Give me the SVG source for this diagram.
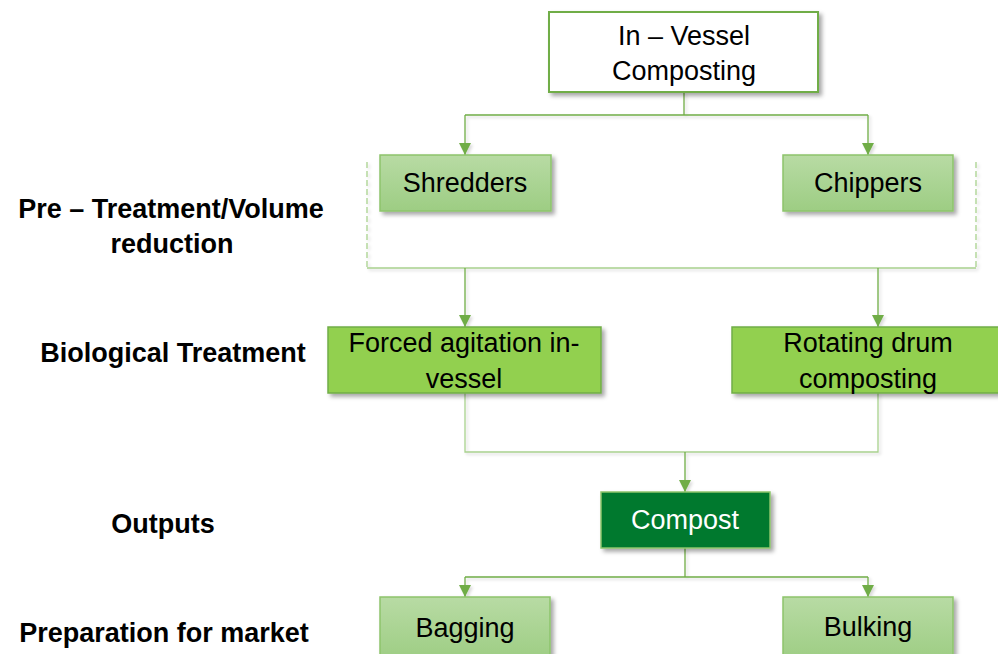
<svg xmlns="http://www.w3.org/2000/svg" width="998" height="654" viewBox="0 0 998 654">
<defs>
<linearGradient id="lg" x1="0" y1="0" x2="0" y2="1">
<stop offset="0" stop-color="#B8DBA4"/>
<stop offset="1" stop-color="#9DCD83"/>
</linearGradient>
<filter id="sh" x="-10%" y="-10%" width="125%" height="135%">
<feDropShadow dx="3" dy="3" stdDeviation="2" flood-color="#000" flood-opacity="0.35"/>
</filter>
<filter id="lsh" x="-10%" y="-10%" width="125%" height="135%">
<feDropShadow dx="2" dy="2" stdDeviation="1.5" flood-color="#000" flood-opacity="0.15"/>
</filter>
<marker id="ah" markerWidth="12" markerHeight="12" refX="10" refY="5" orient="auto" markerUnits="userSpaceOnUse" viewBox="0 0 10 10">
<path d="M0,0 L10,5 L0,10 Z" fill="#70AD47"/>
</marker>
<style>
.node{font-family:"Liberation Sans",Arial,sans-serif;font-size:27px;fill:#000;text-anchor:middle}
.lbl{font-family:"Liberation Sans",Arial,sans-serif;font-size:27px;font-weight:bold;fill:#000;text-anchor:middle}
.light{fill:url(#lg);stroke:#8DC46B;stroke-width:1.5}
.mid{fill:#92D050;stroke:#70AD47;stroke-width:1.5}
.dark{fill:#00792F;stroke:#8DC46B;stroke-width:1.5}
.con{fill:none;stroke:#70AD47;stroke-width:1.3}
.conl{fill:none;stroke:#A9D18E;stroke-width:1.3}
.dash{fill:none;stroke:#A9D18E;stroke-width:1.3;stroke-dasharray:6,3}
</style>
</defs>
<rect width="998" height="654" fill="#FFFFFF"/>

<g id="labels">
<text class="lbl" x="171" y="218">Pre – Treatment/Volume</text>
<text class="lbl" x="172" y="253">reduction</text>
<text class="lbl" x="173" y="362">Biological Treatment</text>
<text class="lbl" x="163" y="533">Outputs</text>
<text class="lbl" x="164" y="642">Preparation for market</text>
</g>

<g id="connectors" filter="url(#lsh)">
<path class="con" d="M684,92 V115 M465,115 H868"/>
<path class="con" d="M465,115 V155" marker-end="url(#ah)"/>
<path class="con" d="M868,115 V155" marker-end="url(#ah)"/>
<path class="dash" d="M367,162 V268 M976,162 V268"/>
<path class="conl" d="M367,268 H976"/>
<path class="con" d="M465,268 V327" marker-end="url(#ah)"/>
<path class="con" d="M878,268 V327" marker-end="url(#ah)"/>
<path class="conl" d="M465,393 V452 H878 V393"/>
<path class="con" d="M685,452 V492" marker-end="url(#ah)"/>
<path class="con" d="M685,548 V577 M465,577 H868"/>
<path class="con" d="M465,577 V597" marker-end="url(#ah)"/>
<path class="con" d="M868,577 V597" marker-end="url(#ah)"/>
</g>

<g id="in-vessel">
<rect x="549" y="12" width="269" height="80" fill="#FFFFFF" stroke="#70AD47" stroke-width="2" filter="url(#sh)"/>
<text class="node" x="684" y="45">In – Vessel</text>
<text class="node" x="684" y="80">Composting</text>
</g>

<g id="shredders">
<rect class="light" x="380" y="155" width="171" height="56" filter="url(#sh)"/>
<text class="node" x="465" y="192">Shredders</text>
</g>

<g id="chippers">
<rect class="light" x="783" y="155" width="170" height="56" filter="url(#sh)"/>
<text class="node" x="868" y="192">Chippers</text>
</g>

<g id="forced-agitation">
<rect class="mid" x="328" y="327" width="273" height="66" filter="url(#sh)"/>
<text class="node" x="464" y="352">Forced agitation in-</text>
<text class="node" x="464" y="388">vessel</text>
</g>

<g id="rotating-drum">
<rect class="mid" x="732" y="327" width="275" height="66" filter="url(#sh)"/>
<text class="node" x="868" y="352">Rotating drum</text>
<text class="node" x="868" y="388">composting</text>
</g>

<g id="compost">
<rect class="dark" x="601" y="492" width="169" height="56" filter="url(#sh)"/>
<text class="node" x="685" y="529" style="fill:#FFFFFF">Compost</text>
</g>

<g id="bagging">
<rect class="light" x="380" y="597" width="170" height="64" filter="url(#sh)"/>
<text class="node" x="465" y="637">Bagging</text>
</g>

<g id="bulking">
<rect class="light" x="783" y="597" width="170" height="64" filter="url(#sh)"/>
<text class="node" x="868" y="636">Bulking</text>
</g>
</svg>
